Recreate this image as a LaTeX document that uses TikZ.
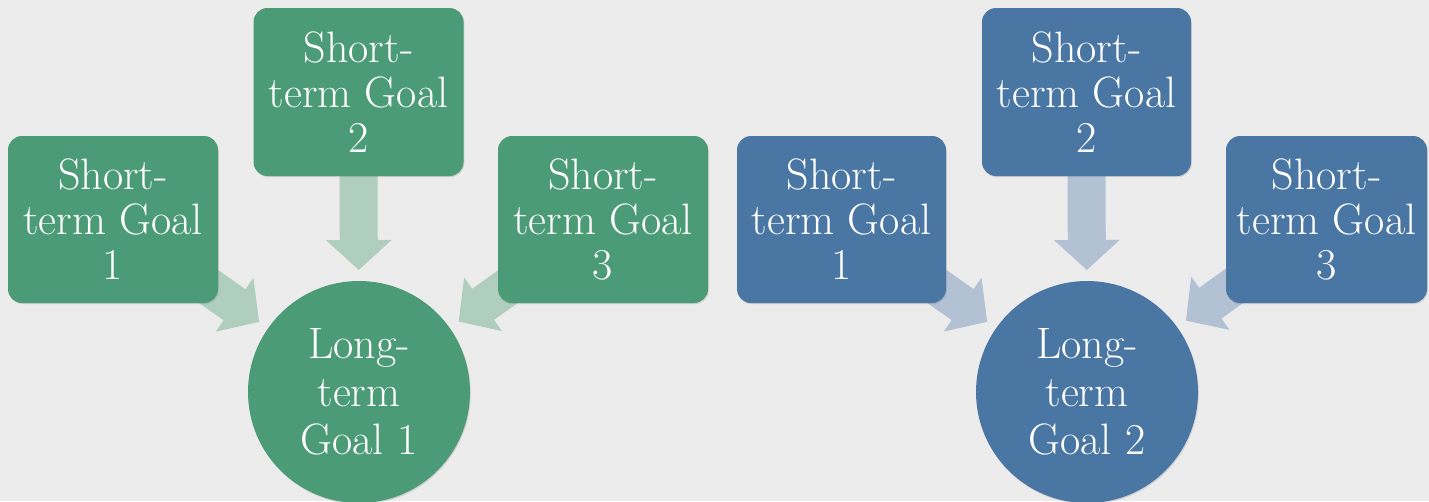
\documentclass[tikz,border=0pt]{standalone}
\usepackage{fontspec}
\usetikzlibrary{arrows.meta,shadows}
\definecolor{bgcol}{HTML}{ECECEC}
\definecolor{gfill}{HTML}{4A9B76}
\definecolor{bfill}{HTML}{4A76A3}
\definecolor{garrow}{HTML}{B0CEBE}
\definecolor{barrow}{HTML}{B3C1D4}
\pgfdeclarelayer{back}
\pgfdeclarelayer{arrowlayer}
\pgfsetlayers{back,arrowlayer,main}
\begin{document}
\begin{tikzpicture}[x=1pt,y=-1pt,
  goalbox/.style={rectangle, rounded corners=14pt, minimum width=210pt, minimum height=167pt,
    inner sep=0pt, text=white, align=center, font=\fontsize{44}{45}\selectfont,
    drop shadow={opacity=0.25, shadow xshift=0.8pt, shadow yshift=-1.2pt}},
  goalcircle/.style={circle, minimum size=222pt, inner sep=0pt, text=white, align=center,
    font=\fontsize{44}{48}\selectfont,
    drop shadow={opacity=0.25, shadow xshift=0.8pt, shadow yshift=-1.2pt}},
  bigarrow/.style={line width=38pt, -{Triangle[length=30pt,width=64pt]}, shorten >=122pt},
]
\useasboundingbox (0,0) rectangle (1429,501);

% left group
\node[goalbox, fill=gfill] (L1) at (113,219.5) {Short-\\term Goal\\1};
\node[goalbox, fill=gfill, minimum height=168pt] (L2) at (358.5,92) {Short-\\term Goal\\2};
\node[goalbox, fill=gfill] (L3) at (603,219.5) {Short-\\term Goal\\3};
\node[goalcircle, fill=gfill] (C1) at (359,392) {Long-\\term\\Goal 1};

% right group
\node[goalbox, fill=bfill, minimum width=209pt] (R1) at (841.5,219.5) {Short-\\term Goal\\1};
\node[goalbox, fill=bfill, minimum width=209pt, minimum height=168pt] (R2) at (1086.5,92) {Short-\\term Goal\\2};
\node[goalbox, fill=bfill, minimum width=201pt] (R3) at (1326.5,219.5) {Short-\\term Goal\\3};
\node[goalcircle, fill=bfill] (C2) at (1087,392) {Long-\\term\\Goal 2};

\begin{pgfonlayer}{back}
  \fill[bgcol] (0,0) rectangle (1429,501);
\end{pgfonlayer}
\begin{pgfonlayer}{arrowlayer}
  \draw[bigarrow, draw=garrow, fill=garrow] (L1.center) -- (C1.center);
  \draw[bigarrow, draw=garrow, fill=garrow] (L2.center) -- (C1.center);
  \draw[bigarrow, draw=garrow, fill=garrow] (L3.center) -- (C1.center);
  \draw[bigarrow, draw=barrow, fill=barrow] (R1.center) -- (C2.center);
  \draw[bigarrow, draw=barrow, fill=barrow] (R2.center) -- (C2.center);
  \draw[bigarrow, draw=barrow, fill=barrow] (R3.center) -- (C2.center);
\end{pgfonlayer}
\end{tikzpicture}
\end{document}
